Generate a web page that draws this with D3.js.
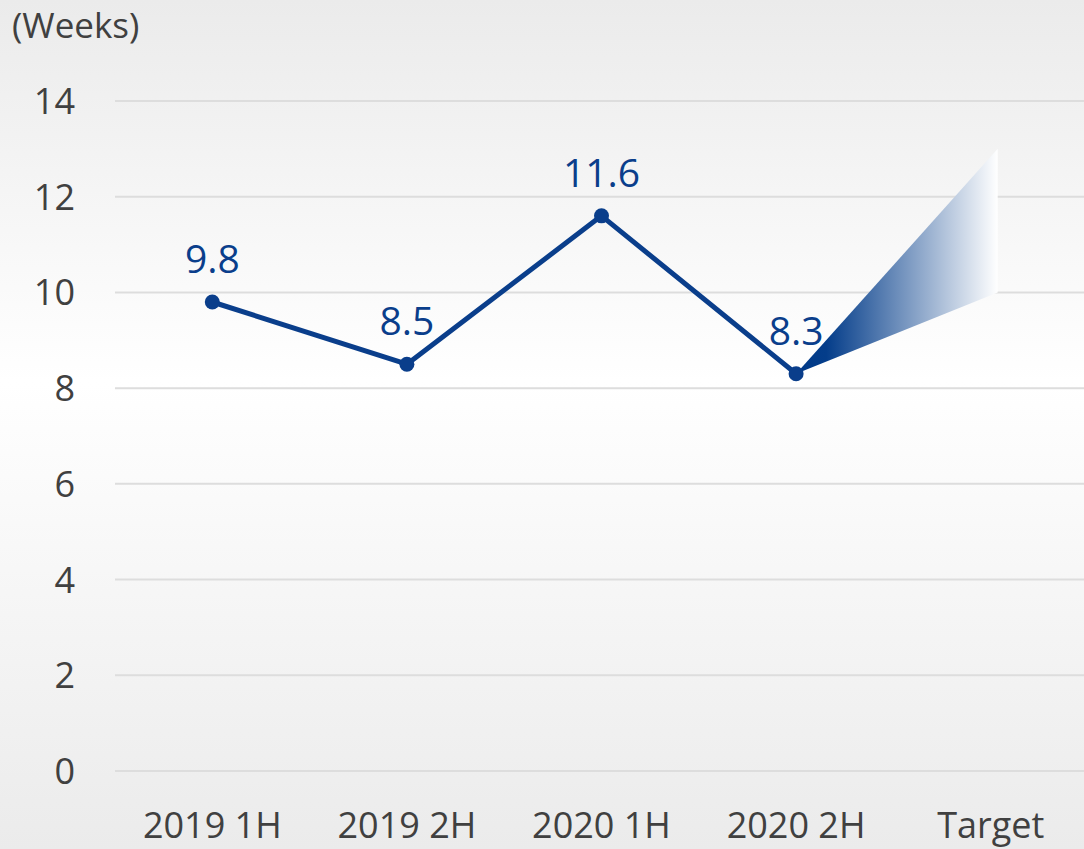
<!DOCTYPE html>
<html>
<head>
<meta charset="utf-8">
<script src="https://cdn.jsdelivr.net/npm/d3@7"></script>
<style>
  html, body { margin: 0; padding: 0; }
  body { width: 1084px; height: 849px; overflow: hidden; }
  text { font-family: "Segoe UI", "Open Sans", "Noto Sans", sans-serif; }
</style>
</head>
<body>
<div id="chart"></div>
<script>
const categories= ['2019 1H', '2019 2H', '2020 1H', '2020 2H', 'Target'];
const periods= ['2019 1H', '2019 2H', '2020 1H', '2020 2H'];
const values= [9.8, 8.5, 11.6, 8.3];
const targetRange= [10, 13];
const yTicks= [0, 2, 4, 6, 8, 10, 12, 14];
const unitLabel= '(Weeks)';

const W= 1084, H= 849;
const BLUE= '#0a3e8b';

const svg= d3.select('#chart').append('svg')
  .attr('width', W).attr('height', H);

const defs= svg.append('defs');
const bg= defs.append('linearGradient').attr('id', 'bg-grad')
  .attr('x1', 0).attr('y1', 0).attr('x2', 0).attr('y2', 1);
bg.append('stop').attr('offset', '0%').attr('stop-color', '#ebebeb');
bg.append('stop').attr('offset', '45%').attr('stop-color', '#ffffff');
bg.append('stop').attr('offset', '100%').attr('stop-color', '#ebebeb');

svg.append('rect').attr('width', W).attr('height', H).attr('fill', 'url(#bg-grad)');

const x= d3.scaleBand().domain(categories).range([115, 1088]);
const y= d3.scaleLinear().domain([0, 14]).range([771, 101]);
const cx= d => x(d)+x.bandwidth()/2;

// gridlines
svg.append('g').selectAll('line').data(yTicks).join('line')
  .attr('x1', 115).attr('x2', W)
  .attr('y1', d => y(d)).attr('y2', d => y(d))
  .attr('stroke', '#dddddd').attr('stroke-width', 2);

// y tick labels
svg.append('g').selectAll('text').data(yTicks).join('text')
  .attr('x', 75).attr('y', d => y(d)+13)
  .attr('text-anchor', 'end')
  .attr('font-size', 36).attr('fill', '#404040')
  .text(d => d);

// category labels
svg.append('g').selectAll('text').data(categories).join('text')
  .attr('x', d => cx(d)).attr('y', 838)
  .attr('text-anchor', 'middle')
  .attr('font-size', 36).attr('fill', '#404040')
  .text(d => d);

svg.append('text')
  .attr('x', 12).attr('y', 38)
  .attr('font-size', 35).attr('fill', '#404040')
  .text(unitLabel);

// target wedge
const last= periods[periods.length-1];
const x0= cx(last), y0= y(values[values.length-1]);
const xT= cx('Target')+7;
const wg= defs.append('linearGradient').attr('id', 'wedge-grad')
  .attr('gradientUnits', 'userSpaceOnUse')
  .attr('x1', x0).attr('y1', 0).attr('x2', xT).attr('y2', 0);
wg.append('stop').attr('offset', '0%').attr('stop-color', '#003a88');
wg.append('stop').attr('offset', '15%').attr('stop-color', '#043d8a');
wg.append('stop').attr('offset', '100%').attr('stop-color', '#ffffff');

svg.append('path')
  .attr('d', `M${x0},${y0}L${xT},${y(targetRange[1])}L${xT},${y(targetRange[0])}Z`)
  .attr('fill', 'url(#wedge-grad)');

// line
const line= d3.line().x((d, i) => cx(periods[i])).y(d => y(d));
svg.append('path').datum(values)
  .attr('d', line)
  .attr('fill', 'none')
  .attr('stroke', BLUE).attr('stroke-width', 5)
  .attr('stroke-linejoin', 'round');

svg.append('g').selectAll('circle').data(values).join('circle')
  .attr('cx', (d, i) => cx(periods[i])).attr('cy', d => y(d))
  .attr('r', 7.5).attr('fill', BLUE);

svg.append('g').selectAll('text').data(values).join('text')
  .attr('x', (d, i) => cx(periods[i])).attr('y', d => y(d)-29)
  .attr('text-anchor', 'middle')
  .attr('font-size', 39).attr('fill', BLUE)
  .text(d => d.toFixed(1));
</script>
</body>
</html>
